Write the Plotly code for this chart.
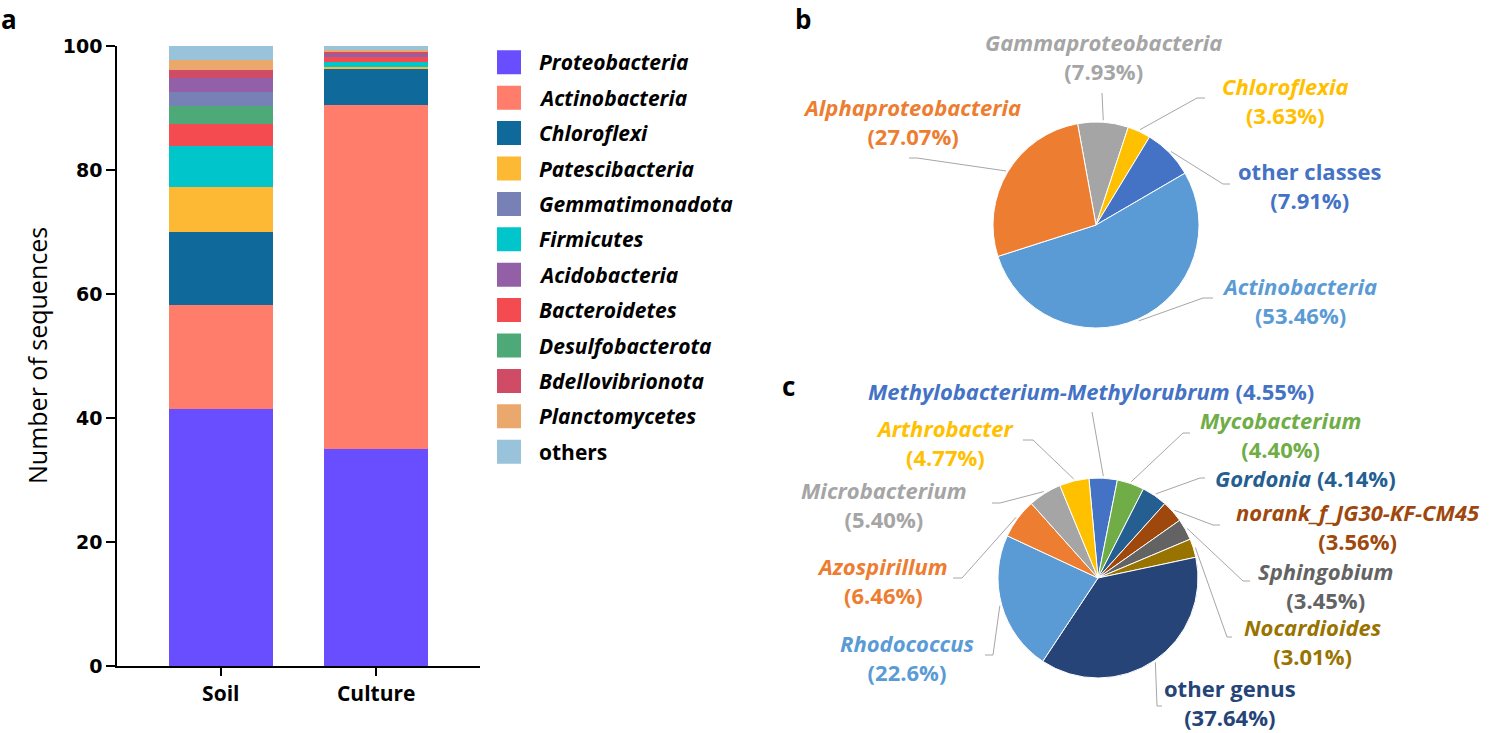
import math
import plotly.graph_objects as go

W, H = 1489, 733
FONT = "Open Sans"

# ---------------- panel a : stacked bars ----------------
samples = ["Soil", "Culture"]
# stacking order (bottom -> top)
phyla = ["Proteobacteria", "Actinobacteria", "Chloroflexi", "Patescibacteria", "Firmicutes",
         "Bacteroidetes", "Desulfobacterota", "Gemmatimonadota", "Acidobacteria",
         "Bdellovibrionota", "Planctomycetes", "others"]
soil_values = [41.5, 16.7, 11.75, 7.35, 6.5, 3.6, 2.9, 2.3, 2.3, 1.3, 1.5, 2.3]
culture_values = [35.0, 55.5, 5.75, 0.4, 0.7, 0.9, 0.05, 0.05, 0.3, 0.4, 0.25, 0.7]
phylum_colors = ["#684EFF", "#FF7D6A", "#0F6A9B", "#FDB933", "#00C6CC",
                 "#F34B4F", "#4DAA78", "#7781B5", "#935FA6",
                 "#D04C66", "#EBA86C", "#99C3DB"]
legend_order = ["Proteobacteria", "Actinobacteria", "Chloroflexi", "Patescibacteria",
                "Gemmatimonadota", "Firmicutes", "Acidobacteria", "Bacteroidetes",
                "Desulfobacterota", "Bdellovibrionota", "Planctomycetes", "others"]
y_ticks = [0, 20, 40, 60, 80, 100]

# ---------------- panel b : classes pie ----------------
classes = ["Gammaproteobacteria", "Chloroflexia", "other classes", "Actinobacteria", "Alphaproteobacteria"]
class_pct = [7.93, 3.63, 7.91, 53.46, 27.07]
class_pct_text = ["7.93%", "3.63%", "7.91%", "53.46%", "27.07%"]
class_colors = ["#A5A5A5", "#FFC000", "#4472C4", "#5B9BD5", "#ED7D31"]

# ---------------- panel c : genera pie ----------------
genera = ["Methylobacterium-Methylorubrum", "Mycobacterium", "Gordonia", "norank_f_JG30-KF-CM45",
          "Sphingobium", "Nocardioides", "other genus", "Rhodococcus", "Azospirillum",
          "Microbacterium", "Arthrobacter"]
genus_pct = [4.55, 4.40, 4.14, 3.56, 3.45, 3.01, 37.64, 22.6, 6.46, 5.40, 4.77]
genus_pct_text = ["4.55%", "4.40%", "4.14%", "3.56%", "3.45%", "3.01%", "37.64%", "22.6%",
                  "6.46%", "5.40%", "4.77%"]
genus_colors = ["#4472C4", "#70AD47", "#255E91", "#9E480E", "#636363", "#997300",
                "#264478", "#5B9BD5", "#ED7D31", "#A5A5A5", "#FFC000"]


def PX(x):
    return x / W


def PY(y):
    return 1 - y / H


fig = go.Figure()

for name, sv, cv, col in zip(phyla, soil_values, culture_values, phylum_colors):
    fig.add_trace(go.Bar(x=samples, y=[sv, cv], name=name, marker=dict(color=col, line=dict(width=0)),
                         width=0.668, showlegend=False, xaxis="x", yaxis="y"))

# custom legend (swatches through its own axes)
leg_colors = [phylum_colors[phyla.index(n)] for n in legend_order]
fig.add_trace(go.Scatter(x=[13] * len(legend_order), y=list(range(len(legend_order))),
                         mode="markers", marker=dict(symbol="square", size=24, color=leg_colors),
                         showlegend=False, hoverinfo="skip", xaxis="x2", yaxis="y2"))

annotations = []
for i, n in enumerate(legend_order):
    txt = f"<b>{n}</b>" if n == "others" else f"<b><i>{n}</i></b>"
    annotations.append(dict(x=41, y=i, xref="x2", yref="y2", text=txt, showarrow=False,
                            xanchor="left", yanchor="middle",
                            font=dict(family=FONT, size=21, color="black")))

# ---------------- pies ----------------
PIE_B = dict(cx=1096, cy=225, r=103, rot=-10.3)
PIE_C = dict(cx=1098, cy=578, r=100, rot=-5.2)

for vals, labels, cols, P in [(class_pct, classes, class_colors, PIE_B),
                              (genus_pct, genera, genus_colors, PIE_C)]:
    fig.add_trace(go.Pie(values=vals, labels=labels, sort=False, direction="clockwise",
                         rotation=P["rot"], textinfo="none", showlegend=False,
                         marker=dict(colors=cols, line=dict(color="white", width=1)),
                         domain=dict(x=[PX(P["cx"] - P["r"]), PX(P["cx"] + P["r"])],
                                     y=[PY(P["cy"] + P["r"]), PY(P["cy"] - P["r"])])))

# label placement (layout): center of text block, elbow and end of leader line (pixels)
b_layout = [
    dict(pos=(1103, 57), elbow=(1102, 93), end=(1102, 93)),
    dict(pos=(1285, 100), elbow=(1197, 98), end=(1205, 98)),
    dict(pos=(1310, 185), elbow=(1223, 184), end=(1230, 184)),
    dict(pos=(1299, 301), elbow=(1203, 298), end=(1213, 298)),
    dict(pos=(912, 121), elbow=(917, 158), end=(909, 158)),
]
c_layout = [
    dict(pos=(1091, 391), elbow=(1092, 412), end=(1092, 412), one=True),
    dict(pos=(1280, 435), elbow=(1183, 433), end=(1190, 433)),
    dict(pos=(1305, 478), elbow=(1200, 478), end=(1205, 478), one=True),
    dict(pos=(1358, 526), elbow=(1213, 525), end=(1220, 525)),
    dict(pos=(1325, 585), elbow=(1243, 581), end=(1250, 581)),
    dict(pos=(1312, 641), elbow=(1227, 637), end=(1232, 637)),
    dict(pos=(1230, 702), elbow=(1157, 706), end=(1162, 706)),
    dict(pos=(907, 657), elbow=(993, 655), end=(985, 655)),
    dict(pos=(882, 580), elbow=(962, 578), end=(953, 578)),
    dict(pos=(884, 504), elbow=(1000, 503), end=(992, 503)),
    dict(pos=(946, 442), elbow=(1033, 440), end=(1023, 440)),
]

shapes = []


def add_pie_labels(vals, names, pct_text, cols, P, lay):
    total = sum(vals)
    cum = 0.0
    for v, n, pt, col, L in zip(vals, names, pct_text, cols, lay):
        theta = math.radians(P["rot"] + (cum + v / 2) / total * 360)
        cum += v
        sx = P["cx"] + (P["r"] + 2) * math.sin(theta)
        sy = P["cy"] - (P["r"] + 2) * math.cos(theta)
        ex, ey = L["elbow"]
        fx, fy = L["end"]
        shapes.append(dict(type="path", xref="paper", yref="paper",
                           path=f"M {PX(sx)} {PY(sy)} L {PX(ex)} {PY(ey)} L {PX(fx)} {PY(fy)}",
                           line=dict(color="#A6A6A6", width=1)))
        nm = f"<b>{n}</b>" if n.startswith("other") else f"<b><i>{n}</i></b>"
        sep = " " if L.get("one") else "<br>"
        annotations.append(dict(x=PX(L["pos"][0]), y=PY(L["pos"][1]), xref="paper", yref="paper",
                                text=f"{nm}{sep}<b>({pt})</b>", showarrow=False,
                                xanchor="center", yanchor="middle", align="center",
                                font=dict(family=FONT, size=22, color=col)))


add_pie_labels(class_pct, classes, class_pct_text, class_colors, PIE_B, b_layout)
add_pie_labels(genus_pct, genera, genus_pct_text, genus_colors, PIE_C, c_layout)

# panel letters
for letter, (x, y) in [("a", (9, 19)), ("b", (803, 19)), ("c", (788, 386))]:
    annotations.append(dict(x=PX(x), y=PY(y), xref="paper", yref="paper", text=f"<b>{letter}</b>",
                            showarrow=False, xanchor="center", yanchor="middle",
                            font=dict(family=FONT, size=26, color="black")))

# y axis title as paper annotation (rotated)
annotations.append(dict(x=PX(37), y=PY(356), xref="paper", yref="paper", text="Number of sequences",
                        showarrow=False, textangle=-90, xanchor="center", yanchor="middle",
                        font=dict(family=FONT, size=25, color="black")))

fig.update_layout(
    width=W, height=H, margin=dict(l=0, r=0, t=0, b=0, pad=0, autoexpand=False),
    paper_bgcolor="white", plot_bgcolor="white",
    barmode="stack", showlegend=False,
    xaxis=dict(domain=[PX(117), PX(480)], range=[-0.668, 1.668], showline=True, linecolor="black",
               linewidth=1.5, ticks="outside", ticklen=8, tickwidth=1.5, tickcolor="black",
               showgrid=False, zeroline=False, automargin=False,
               tickfont=dict(family=FONT, size=21, color="black", weight="bold"), anchor="y"),
    yaxis=dict(domain=[PY(666), PY(46)], range=[0, 100], tickvals=y_ticks, showline=True,
               linecolor="black", linewidth=1.5, ticks="outside", ticklen=9, tickwidth=1.5,
               tickcolor="black", showgrid=False, zeroline=False, automargin=False,
               tickfont=dict(family="DejaVu Sans", size=19, color="black", weight="bold"),
               anchor="x"),
    xaxis2=dict(domain=[PX(496), PX(760)], range=[0, 264], visible=False, anchor="y2",
                automargin=False),
    yaxis2=dict(domain=[PY(469.4), PY(44.6)], range=[11.5, -0.5], visible=False, anchor="x2",
                automargin=False),
    annotations=annotations, shapes=shapes,
)

fig.write_html("out.html", config={"displayModeBar": False},
               post_script="document.body.style.margin='0';document.body.style.overflow='hidden';")
